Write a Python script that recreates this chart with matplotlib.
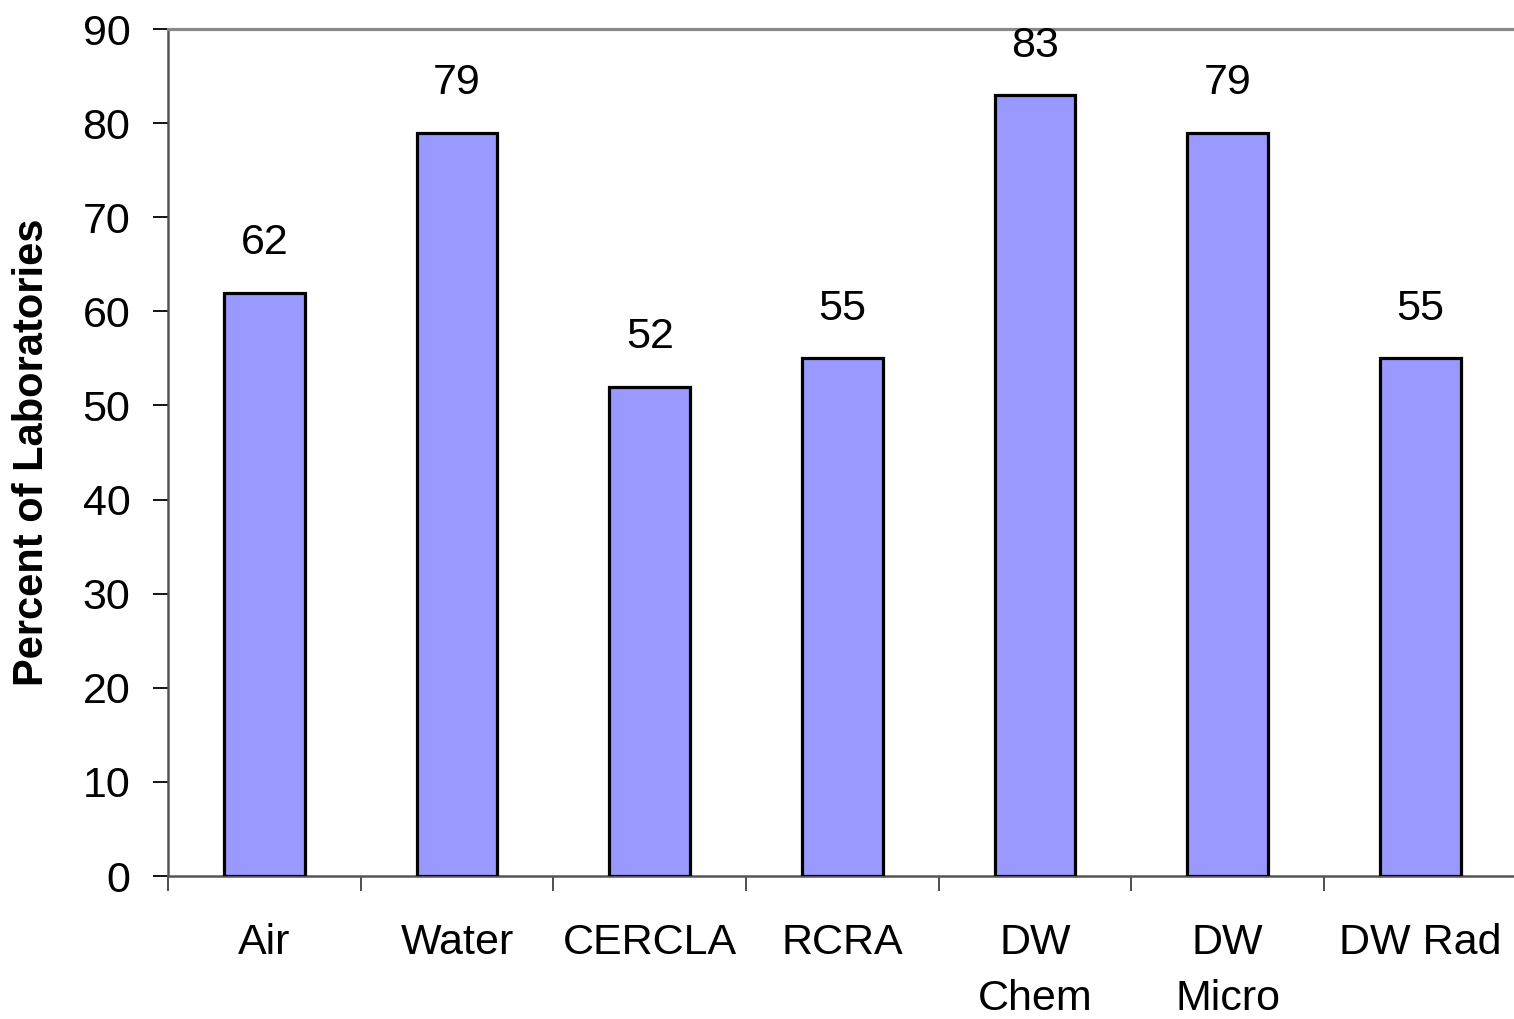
import matplotlib
matplotlib.use("Agg")
import matplotlib.pyplot as plt
from matplotlib.ticker import FixedLocator

categories = ["Air", "Water", "CERCLA", "RCRA", "DW\nChem", "DW\nMicro", "DW Rad"]
values = [62, 79, 52, 55, 83, 79, 55]
yticks = [0, 10, 20, 30, 40, 50, 60, 70, 80, 90]

plt.rcParams['font.family'] = ['Liberation Sans', 'DejaVu Sans']

fig = plt.figure(figsize=(15.14, 10.19), dpi=100)
ax = fig.add_axes([168/1514, 1 - 876/1019, (1516.7 - 168)/1514, (876 - 29)/1019])

x = list(range(len(categories)))
bars = ax.bar(x, values, width=0.42, color="#9999FF", edgecolor="black", linewidth=2.3, zorder=3)

for xi, v in zip(x, values):
    ax.annotate(str(v), (xi, v), xytext=(0, 21), textcoords="offset points",
                ha="center", va="bottom", fontsize=31, color="black")

ax.set_xlim(-0.5, 6.5)
ax.set_ylim(0, 90)
ax.set_yticks(yticks)
ax.set_xticks(x)
ax.set_xticklabels(categories, fontsize=31, linespacing=1.5, va="top")
ax.xaxis.set_minor_locator(FixedLocator([i - 0.5 for i in range(len(categories) + 1)]))
ax.tick_params(axis="x", which="major", length=0, pad=34)
ax.tick_params(axis="x", which="minor", length=11, width=1.3, direction="out", color="#404040")
ax.tick_params(axis="y", which="major", length=11, width=1.3, direction="out", labelsize=31, pad=16, color="black")

ax.set_ylabel("Percent of Laboratories", fontsize=30, fontweight="bold", va="center")
ax.yaxis.set_label_coords((32 - 168) / 1348.7, 0.5)

ax.spines["right"].set_visible(False)
ax.spines["top"].set_color("#888888")
ax.spines["top"].set_linewidth(2.3)
ax.spines["left"].set_color("#555555")
ax.spines["left"].set_linewidth(1.8)
ax.spines["bottom"].set_color("#555555")
ax.spines["bottom"].set_linewidth(1.8)
ax.set_facecolor("white")

fig.savefig("out.png", dpi=100)
